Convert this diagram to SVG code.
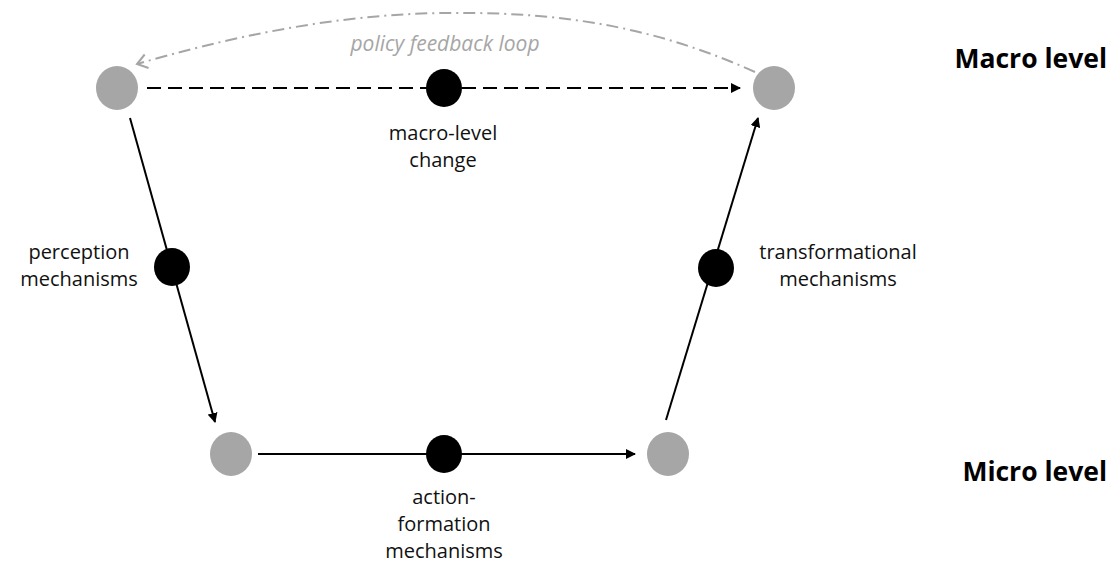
<svg xmlns="http://www.w3.org/2000/svg" width="1113" height="564" viewBox="0 0 1113 564">
<style>
.gray{fill:#a6a6a6}
.blk{fill:#000}
.lbl{font-family:"Open Sans","Noto Sans",sans-serif;font-size:20px;fill:#111;text-anchor:middle}
.lvl{font-family:"Open Sans","Noto Sans",sans-serif;font-size:26.5px;font-weight:bold;fill:#000;text-anchor:end}
.fb{font-family:"Open Sans","Liberation Sans",sans-serif;font-size:21px;font-style:italic;fill:#a6a6a6;text-anchor:middle}
.ln{stroke:#000;stroke-width:2;fill:none}
</style>
<defs>
<marker id="ah" markerWidth="10" markerHeight="10" refX="9" refY="5" orient="auto" markerUnits="userSpaceOnUse">
<path d="M0,0 L10,5 L0,10 Z" fill="#000"/>
</marker>
<marker id="oa" markerWidth="16" markerHeight="16" refX="13" refY="8" orient="auto" markerUnits="userSpaceOnUse">
<path d="M3,1 L13,8 L3,15" fill="none" stroke="#a6a6a6" stroke-width="2"/>
</marker>
</defs>
<g id="connectors">
<line class="ln" x1="147" y1="88" x2="740" y2="88" stroke-dasharray="14,7" marker-end="url(#ah)"/>
<line class="ln" x1="130" y1="118" x2="215" y2="422" marker-end="url(#ah)"/>
<line class="ln" x1="258" y1="454" x2="635" y2="454" marker-end="url(#ah)"/>
<line class="ln" x1="666" y1="420" x2="758" y2="118" marker-end="url(#ah)"/>
<path d="M755,72 C640,20 540,12 445,13 C330,14 220,40 137,64" fill="none" stroke="#a6a6a6" stroke-width="2" stroke-dasharray="12,5,2,5" marker-end="url(#oa)"/>
</g>
<g id="n-macro-left"><ellipse class="gray" cx="117" cy="88" rx="21" ry="22"/></g>
<g id="n-macro-right"><ellipse class="gray" cx="774" cy="88" rx="21" ry="22"/></g>
<g id="n-micro-left"><ellipse class="gray" cx="231" cy="454" rx="21" ry="22"/></g>
<g id="n-micro-right"><ellipse class="gray" cx="668" cy="454" rx="21" ry="22"/></g>
<g id="n-macro-change"><ellipse class="blk" cx="444" cy="88" rx="18" ry="19"/>
<text class="lbl" x="443" y="140">macro-level</text><text class="lbl" x="443" y="167">change</text></g>
<g id="n-perception"><ellipse class="blk" cx="172" cy="267" rx="18" ry="19"/>
<text class="lbl" x="79" y="259">perception</text><text class="lbl" x="79" y="286">mechanisms</text></g>
<g id="n-transformational"><ellipse class="blk" cx="716" cy="268" rx="18" ry="19"/>
<text class="lbl" x="838" y="259">transformational</text><text class="lbl" x="838" y="286">mechanisms</text></g>
<g id="n-action"><ellipse class="blk" cx="444" cy="454" rx="18" ry="19"/>
<text class="lbl" x="444" y="504">action-</text><text class="lbl" x="444" y="531">formation</text><text class="lbl" x="444" y="558">mechanisms</text></g>
<g id="feedback-label"><text class="fb" x="445" y="51">policy feedback loop</text></g>
<g id="levels"><text class="lvl" x="1107" y="68">Macro level</text><text class="lvl" x="1107" y="481">Micro level</text></g>
</svg>
